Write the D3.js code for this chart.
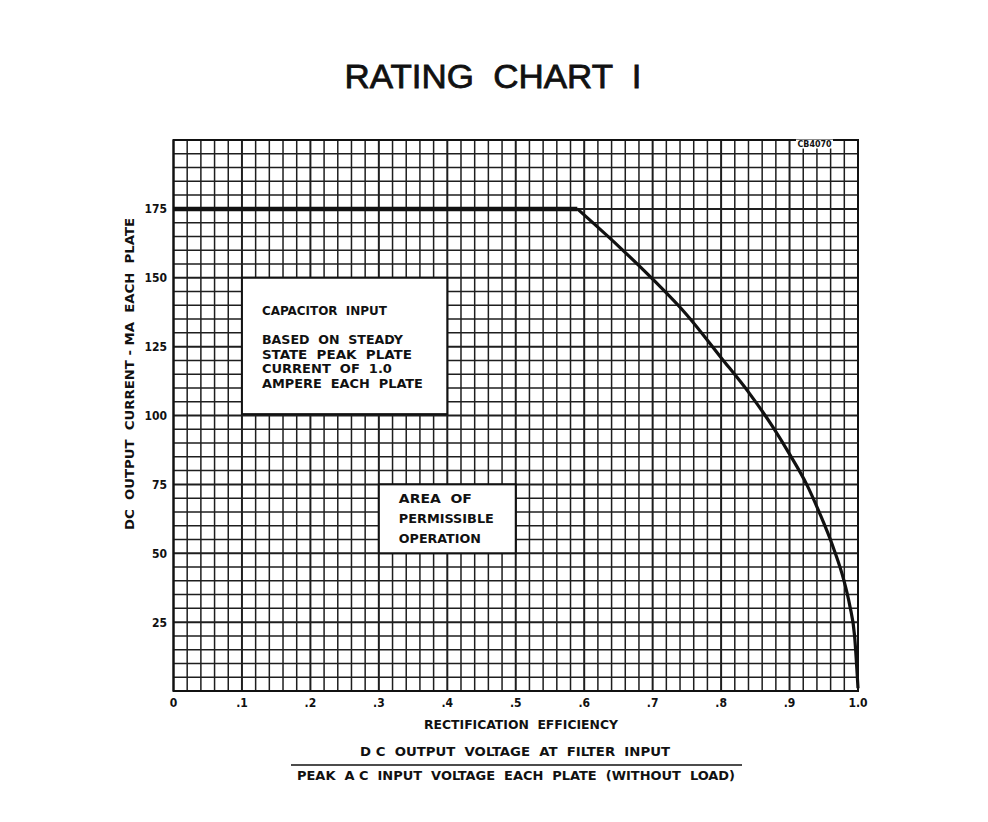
<!DOCTYPE html>
<html>
<head>
<meta charset="utf-8">
<script src="https://cdn.jsdelivr.net/npm/d3@7"></script>
<style>
  html, body { margin: 0; padding: 0; background: #fff; }
  svg { display: block; }
  .lbl { font-family: "DejaVu Sans Condensed", "Liberation Sans Narrow", "DejaVu Sans", sans-serif; font-weight: bold; fill: #111; }
</style>
</head>
<body>
<script>
// ---- data ----
const xTickValues = [0, 0.1, 0.2, 0.3, 0.4, 0.5, 0.6, 0.7, 0.8, 0.9, 1.0];
const xTickLabels = ["0", ".1", ".2", ".3", ".4", ".5", ".6", ".7", ".8", ".9", "1.0"];
const yTickValues = [25, 50, 75, 100, 125, 150, 175];
const yTickLabels = ["25", "50", "75", "100", "125", "150", "175"];
const curveX = [0, 0.59, 0.65, 0.70, 0.75, 0.80, 0.84, 0.876, 0.90, 0.925, 0.944, 0.964, 0.979, 0.988, 0.995, 1.0];
const curveY = [175, 175, 161.5, 149.5, 136.5, 121, 108.5, 95.7, 86, 75, 64.5, 52, 40.5, 31, 20, 1];
const box1Lines = ["CAPACITOR  INPUT", "BASED  ON  STEADY", "STATE  PEAK  PLATE", "CURRENT  OF  1.0", "AMPERE  EACH  PLATE"];
const box2Lines = ["AREA  OF", "PERMISSIBLE", "OPERATION"];
const titleText = "RATING  CHART  I";
const yAxisTitle = "DC  OUTPUT  CURRENT - MA  EACH  PLATE";
const xAxisTitle = "RECTIFICATION  EFFICIENCY";
const fracTop = "D C  OUTPUT  VOLTAGE  AT  FILTER  INPUT";
const fracBottom = "PEAK  A C  INPUT  VOLTAGE  EACH  PLATE  (WITHOUT  LOAD)";
const stampText = "CB4070";

// ---- layout ----
const W = 988, H = 822;
const svg = d3.select("body").append("svg").attr("width", W).attr("height", H);

const x = d3.scaleLinear().domain([0, 1]).range([173.5, 858]);
const y = d3.scaleLinear().domain([0, 200]).range([691, 140]);

// grid
const grid = svg.append("g");
const xMinor = d3.range(0, 51).map(i => i / 50);
const yMinor = d3.range(0, 41).map(i => i * 5);
grid.selectAll("line.vx").data(xMinor).join("line")
  .attr("x1", d => x(d)).attr("x2", d => x(d))
  .attr("y1", y(0)).attr("y2", y(200))
  .attr("stroke", "#1e1e1e")
  .attr("stroke-width", (d, i) => (i % 5 === 0 ? 2 : 1.5));
grid.selectAll("line.hy").data(yMinor).join("line")
  .attr("y1", d => y(d)).attr("y2", d => y(d))
  .attr("x1", x(0)).attr("x2", x(1))
  .attr("stroke", "#1e1e1e")
  .attr("stroke-width", (d, i) => (i % 5 === 0 ? 2 : 1.5));

// outer frame
svg.append("rect")
  .attr("x", x(0)).attr("y", y(200))
  .attr("width", x(1) - x(0)).attr("height", y(0) - y(200))
  .attr("fill", "none").attr("stroke", "#111").attr("stroke-width", 2);

// curve
const pts = curveX.map((v, i) => [v, curveY[i]]);
svg.append("path").datum(pts.slice(0, 2))
  .attr("d", d3.line().x(d => x(d[0])).y(d => y(d[1])).curve(d3.curveLinear))
  .attr("fill", "none").attr("stroke", "#111").attr("stroke-width", 4.5);
svg.append("path").datum(pts.slice(1))
  .attr("d", d3.line().x(d => x(d[0])).y(d => y(d[1])).curve(d3.curveMonotoneX))
  .attr("fill", "none").attr("stroke", "#111").attr("stroke-width", 3.2)
  .attr("stroke-linejoin", "round");

// boxes
function box(x0, x1, y0, y1) {
  svg.append("rect")
    .attr("x", x(x0)).attr("y", y(y1))
    .attr("width", x(x1) - x(x0)).attr("height", y(y0) - y(y1))
    .attr("fill", "#fff").attr("stroke", "#111").attr("stroke-width", 2);
}
box(0.1, 0.4, 100.5, 150);
box(0.3, 0.5, 50, 75);

const b1Base = [315, 344, 358.5, 373, 388];
const b1Len = [125, 141, 150, 130, 161];
svg.append("g").selectAll("text").data(box1Lines).join("text")
  .attr("class", "lbl")
  .attr("x", x(0.1) + 20)
  .attr("y", (d, i) => b1Base[i])
  .attr("font-size", 13)
  .attr("textLength", (d, i) => b1Len[i])
  .attr("lengthAdjust", "spacingAndGlyphs")
  .attr("xml:space", "preserve")
  .text(d => d);

const b2Base = [503, 523, 543];
const b2Len = [73, 95, 82];
svg.append("g").selectAll("text").data(box2Lines).join("text")
  .attr("class", "lbl")
  .attr("x", x(0.3) + 20)
  .attr("y", (d, i) => b2Base[i])
  .attr("font-size", 13)
  .attr("textLength", (d, i) => b2Len[i])
  .attr("lengthAdjust", "spacingAndGlyphs")
  .attr("xml:space", "preserve")
  .text(d => d);

// ticks
svg.append("g").selectAll("text").data(xTickValues).join("text")
  .attr("class", "lbl")
  .attr("x", d => x(d))
  .attr("y", 707)
  .attr("text-anchor", "middle")
  .attr("font-size", 12)
  .text((d, i) => xTickLabels[i]);

svg.append("g").selectAll("text").data(yTickValues).join("text")
  .attr("class", "lbl")
  .attr("x", 167)
  .attr("y", d => y(d) + 4.5)
  .attr("text-anchor", "end")
  .attr("font-size", 12)
  .text((d, i) => yTickLabels[i]);

// title
svg.append("text")
  .attr("x", 493).attr("y", 88)
  .attr("text-anchor", "middle")
  .attr("font-family", "'Liberation Sans', Arial, sans-serif")
  .attr("font-size", 34)
  .attr("fill", "#111")
  .attr("stroke", "#111").attr("stroke-width", 0.8)
  .attr("textLength", 297)
  .attr("lengthAdjust", "spacingAndGlyphs")
  .attr("xml:space", "preserve")
  .text(titleText);

// y axis title
svg.append("text")
  .attr("class", "lbl")
  .attr("transform", "translate(134,374) rotate(-90)")
  .attr("text-anchor", "middle")
  .attr("font-size", 12.5)
  .attr("textLength", 312)
  .attr("lengthAdjust", "spacingAndGlyphs")
  .attr("xml:space", "preserve")
  .text(yAxisTitle);

// x axis title
svg.append("text")
  .attr("class", "lbl")
  .attr("x", 521).attr("y", 729)
  .attr("text-anchor", "middle")
  .attr("font-size", 12.5)
  .attr("textLength", 194)
  .attr("lengthAdjust", "spacingAndGlyphs")
  .attr("xml:space", "preserve")
  .text(xAxisTitle);

// fraction
svg.append("text")
  .attr("class", "lbl")
  .attr("x", 515).attr("y", 756)
  .attr("text-anchor", "middle")
  .attr("font-size", 12.5)
  .attr("textLength", 310)
  .attr("lengthAdjust", "spacingAndGlyphs")
  .attr("xml:space", "preserve")
  .text(fracTop);
svg.append("line")
  .attr("x1", 291).attr("x2", 742).attr("y1", 765).attr("y2", 765)
  .attr("stroke", "#111").attr("stroke-width", 1.5);
svg.append("text")
  .attr("class", "lbl")
  .attr("x", 516).attr("y", 780)
  .attr("text-anchor", "middle")
  .attr("font-size", 12.5)
  .attr("textLength", 438)
  .attr("lengthAdjust", "spacingAndGlyphs")
  .attr("xml:space", "preserve")
  .text(fracBottom);

// stamp
svg.append("rect")
  .attr("x", 796).attr("y", 139.5).attr("width", 37).attr("height", 9)
  .attr("fill", "#fff");
svg.append("text")
  .attr("class", "lbl")
  .attr("x", 814.5).attr("y", 147)
  .attr("text-anchor", "middle")
  .attr("font-size", 8)
  .attr("textLength", 34)
  .attr("lengthAdjust", "spacingAndGlyphs")
  .text(stampText);
</script>
</body>
</html>
